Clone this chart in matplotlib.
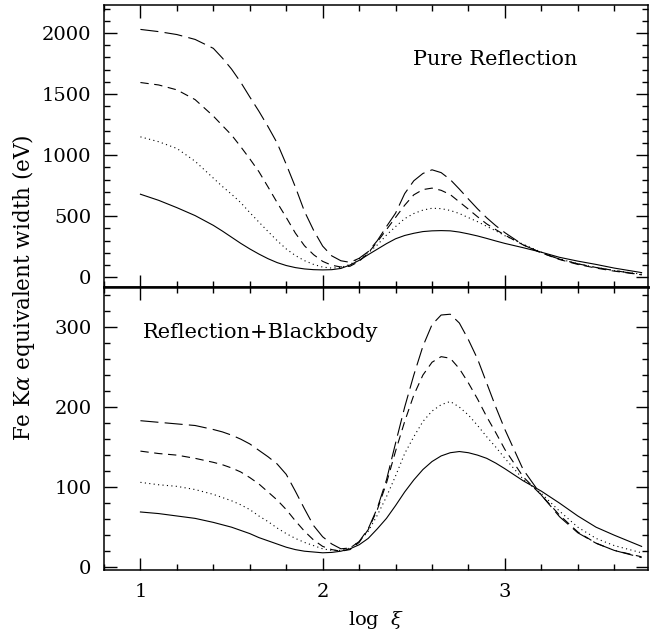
import numpy as np
import matplotlib
matplotlib.use("Agg")
import matplotlib.pyplot as plt
from matplotlib.ticker import MultipleLocator

plt.rcParams["font.family"] = "DejaVu Serif"
plt.rcParams["mathtext.fontset"] = "dejavuserif"
plt.rcParams["lines.scale_dashes"] = False

# log xi grid
LOG_XI = [1.0, 1.1, 1.2, 1.3, 1.4, 1.45, 1.5, 1.55, 1.6, 1.65, 1.7, 1.75, 1.8,
          1.85, 1.9, 1.95, 2.0, 2.05, 2.1, 2.15, 2.2, 2.25, 2.3, 2.35, 2.4,
          2.45, 2.5, 2.55, 2.6, 2.65, 2.7, 2.75, 2.8, 2.85, 2.9, 2.95, 3.0,
          3.1, 3.2, 3.3, 3.4, 3.5, 3.6, 3.75]

# top panel: pure reflection (eV)
PURE_SOLID = [680, 630, 570, 505, 425, 378, 328, 278, 232, 190, 152, 120, 96,
              79, 68, 62, 60, 62, 72, 100, 138, 185, 230, 275, 315,
              342, 360, 374, 380, 382, 380, 370, 355, 338, 318, 297, 277,
              242, 205, 163, 132, 105, 75, 38]
PURE_DOTTED = [1150, 1110, 1055, 950, 812, 743, 680, 612, 530, 452, 375, 300, 232,
               178, 136, 105, 83, 75, 80, 105, 150, 200, 265, 345, 415,
               480, 522, 550, 565, 562, 547, 522, 488, 455, 417, 380, 340,
               270, 205, 150, 110, 80, 55, 25]
PURE_SHORT = [1595, 1575, 1535, 1455, 1320, 1242, 1165, 1070, 970, 865, 740, 612, 490,
              362, 258, 185, 130, 98, 84, 90, 130, 200, 290, 390, 490,
              590, 675, 718, 730, 712, 677, 617, 557, 495, 437, 390, 345,
              265, 200, 145, 105, 75, 50, 20]
PURE_LONG = [2030, 2012, 1988, 1948, 1875, 1795, 1705, 1598, 1477, 1360, 1234, 1100, 925,
             740, 540, 385, 255, 175, 135, 122, 155, 210, 300, 415, 525,
             685, 790, 850, 880, 857, 800, 722, 640, 560, 487, 422, 365,
             265, 200, 148, 110, 80, 55, 20]

# bottom panel: reflection + blackbody (eV)
BB_SOLID = [69, 67, 64, 61, 56, 53, 50, 46, 42, 37, 33, 29, 25,
            22, 20, 19, 18, 18.5, 20, 23, 28, 36, 48, 61, 77,
            94, 109, 122, 132, 139, 143, 144.5, 143, 140, 136, 130, 123,
            108, 95, 80, 64, 50, 40, 26]
BB_DOTTED = [106, 103, 101, 97, 91, 87, 83, 78, 72, 64, 57, 49, 42,
             36, 31, 27, 23, 21, 21, 24, 32, 45, 65, 88, 114,
             142, 163, 182, 195, 203, 207, 200, 190, 177, 163, 150, 136,
             110, 92, 70, 50, 36, 27, 18]
BB_SHORT = [145, 142, 140, 136, 131, 128, 124, 119, 112, 104, 94, 84, 72,
            58, 45, 34, 26, 22, 20, 22, 31, 47, 72, 105, 145,
            182, 215, 240, 256, 263, 261, 248, 230, 210, 188, 168, 147,
            113, 90, 65, 44, 30, 21, 13]
BB_LONG = [183, 181, 179, 177, 172, 169, 165, 160, 154, 146, 138, 129, 116,
           95, 73, 52, 38, 29, 23, 24, 32, 48, 74, 109, 155,
           200, 240, 276, 303, 315, 316, 305, 284, 260, 230, 200, 172,
           122, 90, 63, 43, 30, 21, 12]

STYLES = [
    dict(linestyle="-"),
    dict(dashes=(0.8, 2.4)),
    dict(dashes=(6.0, 4.0)),
    dict(dashes=(13.0, 4.5)),
]


def style_axes(ax):
    ax.set_xlim(0.8, 3.785)
    ax.xaxis.set_major_locator(MultipleLocator(1))
    ax.xaxis.set_minor_locator(MultipleLocator(0.2))
    ax.tick_params(which="both", direction="in", top=True, right=True,
                   labelsize=14, pad=9, color="black")
    ax.tick_params(which="major", length=9, width=1.0)
    ax.tick_params(which="minor", length=4.5, width=1.0)
    for s in ax.spines.values():
        s.set_linewidth(1.1)


fig = plt.figure(figsize=(6.61, 6.33), dpi=100)
ax_top = fig.add_axes([0.1573, 0.5466, 0.823, 0.4455])
ax_bot = fig.add_axes([0.1573, 0.0995, 0.823, 0.4471])

for ys, st in zip([PURE_SOLID, PURE_DOTTED, PURE_SHORT, PURE_LONG], STYLES):
    ax_top.plot(LOG_XI, ys, color="black", lw=0.8, **st)
for ys, st in zip([BB_SOLID, BB_DOTTED, BB_SHORT, BB_LONG], STYLES):
    ax_bot.plot(LOG_XI, ys, color="black", lw=0.8, **st)

style_axes(ax_top)
style_axes(ax_bot)

ax_top.set_ylim(-80, 2230)
ax_top.yaxis.set_major_locator(MultipleLocator(500))
ax_top.yaxis.set_minor_locator(MultipleLocator(100))
ax_top.tick_params(labelbottom=False)
ax_top.spines["bottom"].set_linewidth(1.8)

ax_bot.set_ylim(-3.5, 350)
ax_bot.yaxis.set_major_locator(MultipleLocator(100))
ax_bot.yaxis.set_minor_locator(MultipleLocator(20))
ax_bot.spines["top"].set_linewidth(1.8)

ax_top.text(0.72, 0.805, "Pure Reflection", transform=ax_top.transAxes,
            fontsize=15, ha="center", va="center")
ax_bot.text(0.072, 0.841, "Reflection+Blackbody", transform=ax_bot.transAxes,
            fontsize=15, ha="left", va="center")

ax_bot.set_xlabel(r"log  $\xi$", fontsize=14, labelpad=6)
fig.text(0.036, 0.545, r"Fe K$\alpha$ equivalent width (eV)", fontsize=15.5,
         rotation=90, ha="center", va="center")

fig.savefig("out.png", dpi=100)
